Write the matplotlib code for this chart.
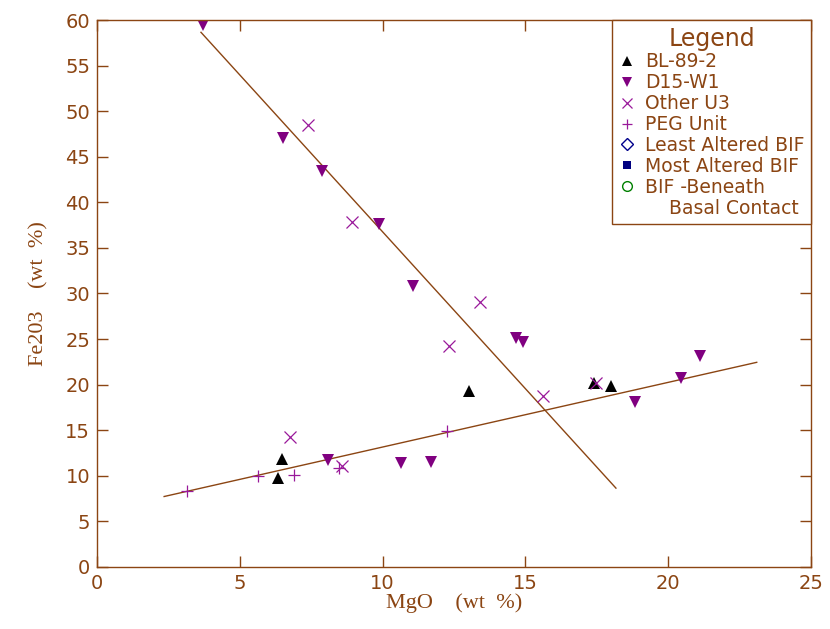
import matplotlib
matplotlib.use('Agg')
import matplotlib.pyplot as plt
from matplotlib.lines import Line2D

brown = '#8B4513'
purple = '#800080'

# BL-89-2 samples
bl_mgo = [6.33, 6.48, 13.04, 17.40, 17.99]
bl_fe = [9.75, 11.87, 19.34, 20.20, 19.80]

# D15-W1 samples
d15_mgo = [3.71, 6.50, 7.87, 9.86, 11.05, 14.66, 14.92, 18.83, 20.44, 21.10, 8.10, 10.66, 11.71]
d15_fe = [59.45, 47.10, 43.40, 37.60, 30.80, 25.10, 24.65, 18.06, 20.70, 23.10, 11.76, 11.40, 11.55]

# other U3 samples
other_mgo = [7.39, 8.93, 13.42, 12.31, 15.60, 17.46, 6.77, 8.57]
other_fe = [48.50, 37.80, 29.05, 24.20, 18.80, 20.20, 14.30, 11.10]

# PEG unit samples
peg_mgo = [3.16, 5.65, 6.89, 8.49, 12.25]
peg_fe = [8.35, 9.93, 10.10, 10.85, 14.87]

# hand-fitted trend lines (end points)
trend1_mgo = [3.64, 18.17]
trend1_fe = [58.65, 8.65]
trend2_mgo = [2.35, 23.10]
trend2_fe = [7.73, 22.45]

xticks = [0, 5, 10, 15, 20, 25]
yticks = list(range(0, 61, 5))

fig = plt.figure(figsize=(8.3, 6.29), dpi=100)
ax = fig.add_axes([0.1169, 0.0986, 0.8602, 0.8696])

ax.plot(trend1_mgo, trend1_fe, color=brown, lw=1.0)
ax.plot(trend2_mgo, trend2_fe, color=brown, lw=1.0)

ax.plot(bl_mgo, bl_fe, ls='none', marker='^', ms=8, color='black', mew=0)
ax.plot(d15_mgo, d15_fe, ls='none', marker='v', ms=8, color=purple, mew=0)
ax.plot(other_mgo, other_fe, ls='none', marker='x', ms=8, color='#99199A', mew=0.9)
ax.plot(peg_mgo, peg_fe, ls='none', marker='+', ms=8, color='#99199A', mew=0.9)

ax.set_xlim(0, 25)
ax.set_ylim(0, 60)
ax.set_xticks(xticks)
ax.set_yticks(yticks)

for s in ax.spines.values():
	s.set_color(brown)
	s.set_linewidth(1.0)

ax.tick_params(direction='in', length=8, width=1.0, color=brown, top=True, right=True,
	labelcolor=brown, labelsize=14, pad=5)
for lab in ax.get_xticklabels() + ax.get_yticklabels():
	lab.set_family('DejaVu Sans')

ax.set_xlabel('MgO    (wt  %)', family='Liberation Serif', fontsize=16, color=brown, labelpad=0)
ax.set_ylabel('Fe203    (wt  %)', family='Liberation Serif', fontsize=16, color=brown, labelpad=12)

handles = [
	Line2D([], [], ls='none', marker='^', ms=7, color='black', mew=0),
	Line2D([], [], ls='none', marker='v', ms=7, color=purple, mew=0),
	Line2D([], [], ls='none', marker='x', ms=7, color='#99199A', mew=0.9),
	Line2D([], [], ls='none', marker='+', ms=7, color='#99199A', mew=0.9),
	Line2D([], [], ls='none', marker='D', ms=6, mfc='none', mec='#00008B', mew=1.0),
	Line2D([], [], ls='none', marker='s', ms=6, color='#000080', mew=0),
	Line2D([], [], ls='none', marker='o', ms=7, mfc='none', mec='#008000', mew=1.0),
	Line2D([], [], ls='none'),  # second line of the last entry
]
labels = ['BL-89-2', 'D15-W1', 'Other U3', 'PEG Unit', 'Least Altered BIF',
	'Most Altered BIF', 'BIF -Beneath', '    Basal Contact']

leg = ax.legend(handles, labels, loc='upper right', borderaxespad=0, title='Legend',
	fancybox=False, frameon=True, edgecolor=brown, framealpha=1,
	prop={'family': 'DejaVu Sans', 'size': 13.5}, title_fontsize=17,
	handlelength=0.9, handletextpad=0.5, labelspacing=0.1, borderpad=0.35)
leg.get_frame().set_linewidth(1.0)
for t in leg.get_texts():
	t.set_color(brown)
leg.get_title().set_color(brown)

plt.savefig('out.png', dpi=100)
